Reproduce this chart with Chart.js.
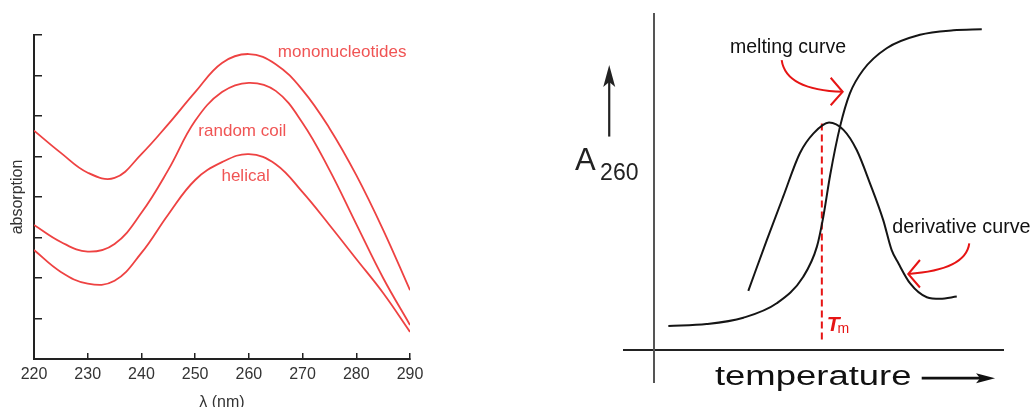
<!DOCTYPE html>
<html>
<head>
<meta charset="utf-8">
<script src="https://cdn.jsdelivr.net/npm/chart.js@4"></script>
<style>
  html, body { margin: 0; padding: 0; background: #fff; }
  #wrap { position: relative; width: 1032px; height: 407px; overflow: hidden; }
  #spectrum { position: absolute; left: 0; top: 0; }
  #melting { position: absolute; left: 560px; top: 0; }
</style>
</head>
<body>
<div id="wrap">
  <canvas id="spectrum" width="430" height="407"></canvas>
  <canvas id="melting" width="472" height="407"></canvas>
</div>
<script>
const FONT = 'Arial, "Liberation Sans", sans-serif';

// left panel: absorption spectra (arbitrary units, 0..8)
const wavelengths = [220, 225, 230, 235, 240, 245, 250, 255, 260, 265, 270, 275, 280, 285, 290];
const mononucleotides = [5.64, 5.09, 4.60, 4.47, 5.06, 5.80, 6.59, 7.31, 7.53, 7.28, 6.64, 5.70, 4.54, 3.19, 1.70];
const randomCoil = [3.31, 2.89, 2.65, 2.84, 3.61, 4.67, 5.88, 6.59, 6.82, 6.62, 5.83, 4.67, 3.33, 2.00, 0.84];
const helical = [2.69, 2.15, 1.86, 1.93, 2.62, 3.57, 4.42, 4.86, 5.06, 4.81, 4.12, 3.31, 2.47, 1.63, 0.67];
const xTicks = [220, 230, 240, 250, 260, 270, 280, 290];

// right panel: melting curve and its derivative (schematic units)
const meltTemps = [3.7, 13.8, 23.5, 32.3, 39.3, 42.9, 44.6, 46.4, 49.0, 51.6, 55.1, 61.3, 70.1, 78.9, 86.4];
const meltAbs = [0.075, 0.081, 0.101, 0.146, 0.229, 0.323, 0.417, 0.547, 0.698, 0.802, 0.875, 0.943, 0.985, 0.999, 1.002];
const derivTemps = [24.8, 29.7, 34.0, 38.4, 42.0, 46.1, 49.9, 53.4, 56.9, 60.4, 62.6, 64.4, 67.5, 71.9, 75.4, 79.8];
const derivAbs = [0.185, 0.344, 0.479, 0.615, 0.677, 0.711, 0.688, 0.625, 0.521, 0.406, 0.313, 0.271, 0.208, 0.165, 0.160, 0.167];
const tm = 44.2;
const tmRange = [0.708, 0.03];

const toPoints = (xs, ys) => xs.map((v, i) => ({ x: v, y: ys[i] }));

const RED = 'rgb(238, 66, 66)';

function curve(label, values) {
  return {
    label: label,
    data: toPoints(wavelengths, values),
    borderColor: RED,
    borderWidth: 1.8,
    pointRadius: 0,
    fill: false,
    tension: 0.4
  };
}

// text labels next to the spectra
const curveLabels = {
  id: 'curveLabels',
  afterDatasetsDraw(chart) {
    const { ctx, scales: { x, y } } = chart;
    ctx.save();
    ctx.fillStyle = 'rgb(240, 84, 84)';
    ctx.font = '17px ' + FONT;
    ctx.textBaseline = 'alphabetic';
    ctx.fillText('mononucleotides', x.getPixelForValue(265.4), y.getPixelForValue(7.46));
    ctx.fillText('random coil', x.getPixelForValue(250.6), y.getPixelForValue(5.51));
    ctx.fillText('helical', x.getPixelForValue(254.9), y.getPixelForValue(4.40));
    ctx.restore();
  }
};

new Chart(document.getElementById('spectrum'), {
  type: 'line',
  data: {
    datasets: [
      curve('mononucleotides', mononucleotides),
      curve('random coil', randomCoil),
      curve('helical', helical)
    ]
  },
  options: {
    responsive: false,
    animation: false,
    devicePixelRatio: 1,
    layout: { padding: { top: 35, right: 20, left: 0, bottom: 0 } },
    plugins: { legend: { display: false }, tooltip: { enabled: false } },
    scales: {
      x: {
        type: 'linear',
        min: 220,
        max: 290,
        afterBuildTicks: s => { s.ticks = xTicks.map(v => ({ value: v })); },
        afterFit: s => { s.height = 48; s.paddingLeft = 14; s.paddingRight = 14; },
        ticks: { color: '#333', font: { size: 16, family: FONT }, padding: 12, maxRotation: 0 },
        grid: { drawOnChartArea: false, tickLength: -6, color: '#222', lineWidth: 1.5 },
        border: { color: '#222', width: 2 },
        title: {
          display: true, text: 'λ (nm)', color: '#333',
          font: { size: 16, family: FONT }, padding: { top: 0, bottom: -5 }
        }
      },
      y: {
        min: 0,
        max: 8,
        afterFit: s => { s.width = 34; },
        ticks: { display: false, stepSize: 1 },
        grid: { drawOnChartArea: false, tickLength: -8, color: '#222', lineWidth: 1.5 },
        border: { color: '#222', width: 2 },
        title: {
          display: true, text: 'absorption', color: '#333',
          font: { size: 16, family: FONT }, padding: { top: 8, bottom: 0 }
        }
      }
    }
  },
  plugins: [curveLabels]
});

// annotations of the melting diagram
const meltNotes = {
  id: 'meltNotes',
  afterDatasetsDraw(chart) {
    const { ctx, scales: { x, y } } = chart;
    const P = (t, a) => [x.getPixelForValue(t), y.getPixelForValue(a)];
    ctx.save();

    // A260 label and up arrow
    ctx.fillStyle = '#222';
    ctx.textBaseline = 'alphabetic';
    ctx.font = '31px ' + FONT;
    let p = P(-20.9, 0.5625);
    ctx.fillText('A', p[0], p[1]);
    ctx.font = '23px ' + FONT;
    p = P(-14.3, 0.531);
    ctx.fillText('260', p[0], p[1]);

    let b = P(-11.9, 0.667), t = P(-11.9, 0.891);
    ctx.strokeStyle = '#222';
    ctx.lineWidth = 2.2;
    ctx.beginPath();
    ctx.moveTo(b[0], b[1]);
    ctx.lineTo(t[0], t[1] + 12);
    ctx.stroke();
    ctx.beginPath();
    ctx.moveTo(t[0], t[1]);
    ctx.lineTo(t[0] + 6, t[1] + 22);
    ctx.lineTo(t[0], t[1] + 17);
    ctx.lineTo(t[0] - 6, t[1] + 22);
    ctx.closePath();
    ctx.fill();

    // temperature label and right arrow
    ctx.font = '27px ' + FONT;
    ctx.fillStyle = '#111';
    p = P(16.0, -0.109);
    ctx.save();
    ctx.translate(p[0], p[1]);
    ctx.scale(1.35, 1);
    ctx.fillText('temperature', 0, 0);
    ctx.restore();
    let s = P(70.55, -0.088), e = P(89.9, -0.088);
    ctx.strokeStyle = '#111';
    ctx.lineWidth = 2.6;
    ctx.beginPath();
    ctx.moveTo(s[0], s[1]);
    ctx.lineTo(e[0] - 12, e[1]);
    ctx.stroke();
    ctx.beginPath();
    ctx.moveTo(e[0], e[1]);
    ctx.lineTo(e[0] - 19, e[1] - 5);
    ctx.lineTo(e[0] - 15, e[1]);
    ctx.lineTo(e[0] - 19, e[1] + 5);
    ctx.closePath();
    ctx.fill();

    // curve labels
    ctx.font = '21px ' + FONT;
    ctx.fillStyle = '#111';
    p = P(19.95, 0.929);
    ctx.save();
    ctx.translate(p[0], p[1]);
    ctx.scale(0.93, 1);
    ctx.fillText('melting curve', 0, 0);
    ctx.restore();
    p = P(62.8, 0.365);
    ctx.save();
    ctx.translate(p[0], p[1]);
    ctx.scale(0.94, 1);
    ctx.fillText('derivative curve', 0, 0);
    ctx.restore();

    // red pointer arrows
    ctx.strokeStyle = 'rgb(230, 20, 20)';
    ctx.lineWidth = 2;
    const pointer = (start, ctrl, end, dx) => {
      const a = P(...start), c = P(...ctrl), z = P(...end);
      ctx.beginPath();
      ctx.moveTo(a[0], a[1]);
      ctx.quadraticCurveTo(c[0], c[1], z[0], z[1]);
      ctx.stroke();
      ctx.beginPath();
      ctx.moveTo(z[0] + dx, z[1] - 14);
      ctx.lineTo(z[0], z[1]);
      ctx.lineTo(z[0] + dx, z[1] + 13.5);
      ctx.stroke();
    };
    pointer([33.6, 0.906], [34.75, 0.8125], [49.7, 0.807], -12);
    pointer([83.1, 0.333], [82.2, 0.25], [67.0, 0.2375], 11.7);

    // Tm label
    ctx.fillStyle = 'rgb(230, 20, 20)';
    ctx.font = 'italic bold 21px ' + FONT;
    p = P(45.5, 0.058);
    ctx.fillText('T', p[0], p[1]);
    const w = ctx.measureText('T').width;
    ctx.font = '14px ' + FONT;
    ctx.fillText('m', p[0] + w - 2, p[1] + 2);

    ctx.restore();
  }
};

new Chart(document.getElementById('melting'), {
  type: 'scatter',
  data: {
    datasets: [
      {
        label: 'melting curve',
        data: toPoints(meltTemps, meltAbs),
        showLine: true,
        borderColor: '#151515',
        borderWidth: 2,
        pointRadius: 0,
        cubicInterpolationMode: 'monotone'
      },
      {
        label: 'derivative curve',
        data: toPoints(derivTemps, derivAbs),
        showLine: true,
        borderColor: '#151515',
        borderWidth: 2,
        pointRadius: 0,
        cubicInterpolationMode: 'monotone'
      },
      {
        label: 'Tm',
        data: toPoints([tm, tm], tmRange),
        showLine: true,
        borderColor: 'rgb(230, 20, 20)',
        borderWidth: 2,
        borderDash: [7, 4],
        pointRadius: 0
      }
    ]
  },
  options: {
    responsive: false,
    animation: false,
    devicePixelRatio: 1,
    layout: { padding: { left: 64, right: 29, top: 14, bottom: 25 } },
    plugins: { legend: { display: false }, tooltip: { enabled: false } },
    scales: {
      x: {
        type: 'linear',
        min: -8,
        max: 92,
        position: { y: 0 },
        ticks: { display: false },
        grid: { display: false },
        border: { display: true, color: '#222', width: 2 }
      },
      y: {
        type: 'linear',
        min: -0.1,
        max: 1.05,
        position: { x: 0 },
        ticks: { display: false },
        grid: { display: false },
        border: { display: true, color: '#555', width: 2 }
      }
    }
  },
  plugins: [meltNotes]
});
</script>
</body>
</html>
